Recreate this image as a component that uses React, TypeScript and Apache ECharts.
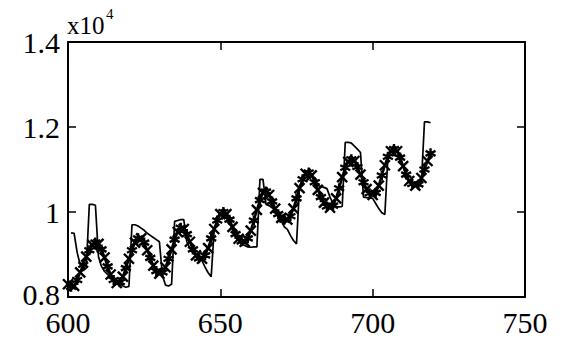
import React, { useEffect, useRef } from "react";
import * as echarts from "echarts";

const startDay = 600;
const xTicks = [600, 650, 700, 750];
const yTicks = [10000, 12000, 14000];
const yBottomLabel = "0.8";

// model (markers) values, one per day from 600
const modelValues = [
  8300, 8240, 8260, 8400, 8580, 8760, 8950, 9100, 9220, 9280,
  9250, 9120, 8930, 8720, 8530, 8400, 8330, 8350, 8480, 8680,
  8900, 9100, 9280, 9380, 9380, 9280, 9100, 8920, 8740, 8610,
  8550, 8580, 8700, 8900, 9120, 9350, 9530, 9630, 9600, 9480,
  9300, 9120, 8980, 8910, 8900, 8980, 9150, 9380, 9600, 9800,
  9950, 10000, 9950, 9820, 9650, 9480, 9370, 9310, 9300, 9380,
  9560, 9800, 10050, 10280, 10450, 10480, 10400, 10250, 10080, 9950,
  9860, 9820, 9820, 9900, 10080, 10320, 10560, 10770, 10900, 10930,
  10860, 10700, 10520, 10350, 10220, 10130, 10100, 10150, 10320, 10560,
  10820, 11040, 11180, 11240, 11200, 11060, 10880, 10700, 10540, 10440,
  10400, 10450, 10620, 10860, 11100, 11300, 11430, 11480, 11430, 11280,
  11080, 10880, 10730, 10660, 10620, 10650, 10800, 11000, 11200, 11380,
];

// observed (solid line) values, one per day from 600
const observedValues = [
  null, 9510, 9500, 9050, 8760, 8620, 8680, 10180, 10180, 10160,
  8950, 8720, 8600, 8530, 8480, 8430, 8380, 8320, 8260, 8230,
  8250, 9700, 9700, 9670, 9620, 9570, 9500, 9450, 9400, 9350,
  9300, 8500, 8280, 8260, 8300, 9780, 9800, 9820, 9820, 9300,
  9150, 9080, 9020, 8960, 8850, 8700, 8570, 8480, 9600, 9800,
  9930, 9980, 9920, 9750, 9580, 9420, 9320, 9250, 9210, 9180,
  9170, 9180, 9180, 10770, 10770, 10180, 10150, 10100, 10050, 10000,
  9800, 9650, 9590, 9450, 9330, 9250, 10600, 10770, 10900, 10930,
  10860, 10700, 10620, 10600, 10580, 10550, 10350, 10200, 10130, 10120,
  10130, 11640, 11640, 11620, 11550, 11480, 11400, 10350, 10340, 10330,
  10320, 10200, 10080, 9980, 9940, 11300, 11430, 11480, 11430, 11280,
  11080, 10880, 10730, 10660, 10620, 10680, 10700, 12120, 12120, 12100,
];

const X_SYMBOL = "path://M0,0L10,10M10,0L0,10";
const STAR_SYMBOL = "path://M5,0L5,10M0,2.5L10,7.5M0,7.5L10,2.5";

export default function App() {
  const ref = useRef<HTMLDivElement>(null);
  useEffect(() => {
    if (!ref.current) return;
    const chart = echarts.init(ref.current, null, { renderer: "svg" });
    const model = modelValues.map((v, i) => [startDay + i, v]);
    const observed = observedValues.map((v, i) => [startDay + i, v]);
    const font = "Liberation Serif";
    const axisLine = { show: true, lineStyle: { color: "#000", width: 2 } };
    const axisTick = { show: true, inside: true, length: 8, lineStyle: { color: "#000", width: 1.5 } };
    chart.setOption({
      animation: false,
      backgroundColor: "#fff",
      grid: { left: 68, right: 51, top: 42, bottom: 64, containLabel: false },
      xAxis: [
        {
          type: "value", min: 600, max: 750, interval: 50, position: "bottom",
          axisLine, axisTick, splitLine: { show: false },
          axisLabel: { color: "#000", fontFamily: font, fontSize: 30, margin: 14, lineHeight: 22,
            formatter: (v: number) => (xTicks.includes(v) ? String(v) : "") },
        },
        {
          type: "value", min: 600, max: 750, interval: 50, position: "top",
          axisLine, axisTick, splitLine: { show: false }, axisLabel: { show: false },
        },
      ],
      yAxis: [
        {
          type: "value", min: 8000, max: 14000, interval: 2000, position: "left",
          axisLine, axisTick, splitLine: { show: false },
          axisLabel: { color: "#000", fontFamily: font, fontSize: 30, margin: 8, lineHeight: 22,
            formatter: (v: number) => (yTicks.includes(v) ? String(v / 10000) : "") },
        },
        {
          type: "value", min: 8000, max: 14000, interval: 2000, position: "right",
          axisLine, axisTick, splitLine: { show: false }, axisLabel: { show: false },
        },
      ],
      graphic: [
        { type: "text", left: 67, top: 13, style: { text: "x10", font: "25px Liberation Serif", fill: "#000" } },
        { type: "text", left: 106, top: 6, style: { text: "4", font: "15px Liberation Serif", fill: "#000" } },
        { type: "text", x: 60, y: 294, style: { text: yBottomLabel, font: "30px Liberation Serif", fill: "#000",
          align: "right", verticalAlign: "middle" } },
      ],
      series: [
        {
          type: "line", data: observed, showSymbol: false, symbol: "none",
          lineStyle: { color: "#000", width: 1.7 }, connectNulls: false, z: 2,
        },
        {
          type: "line", data: model,
          symbol: (_v: any, p: any) => (p.dataIndex % 2 === 0 ? X_SYMBOL : STAR_SYMBOL),
          symbolSize: 10, showAllSymbol: true,
          itemStyle: { color: "#000", borderColor: "#000", borderWidth: 2.4 },
          lineStyle: { color: "#000", width: 2.5 }, z: 3,
        },
      ],
    });
    return () => chart.dispose();
  }, []);
  return <div ref={ref} style={{ width: 576, height: 361, margin: -8 }} />;
}
